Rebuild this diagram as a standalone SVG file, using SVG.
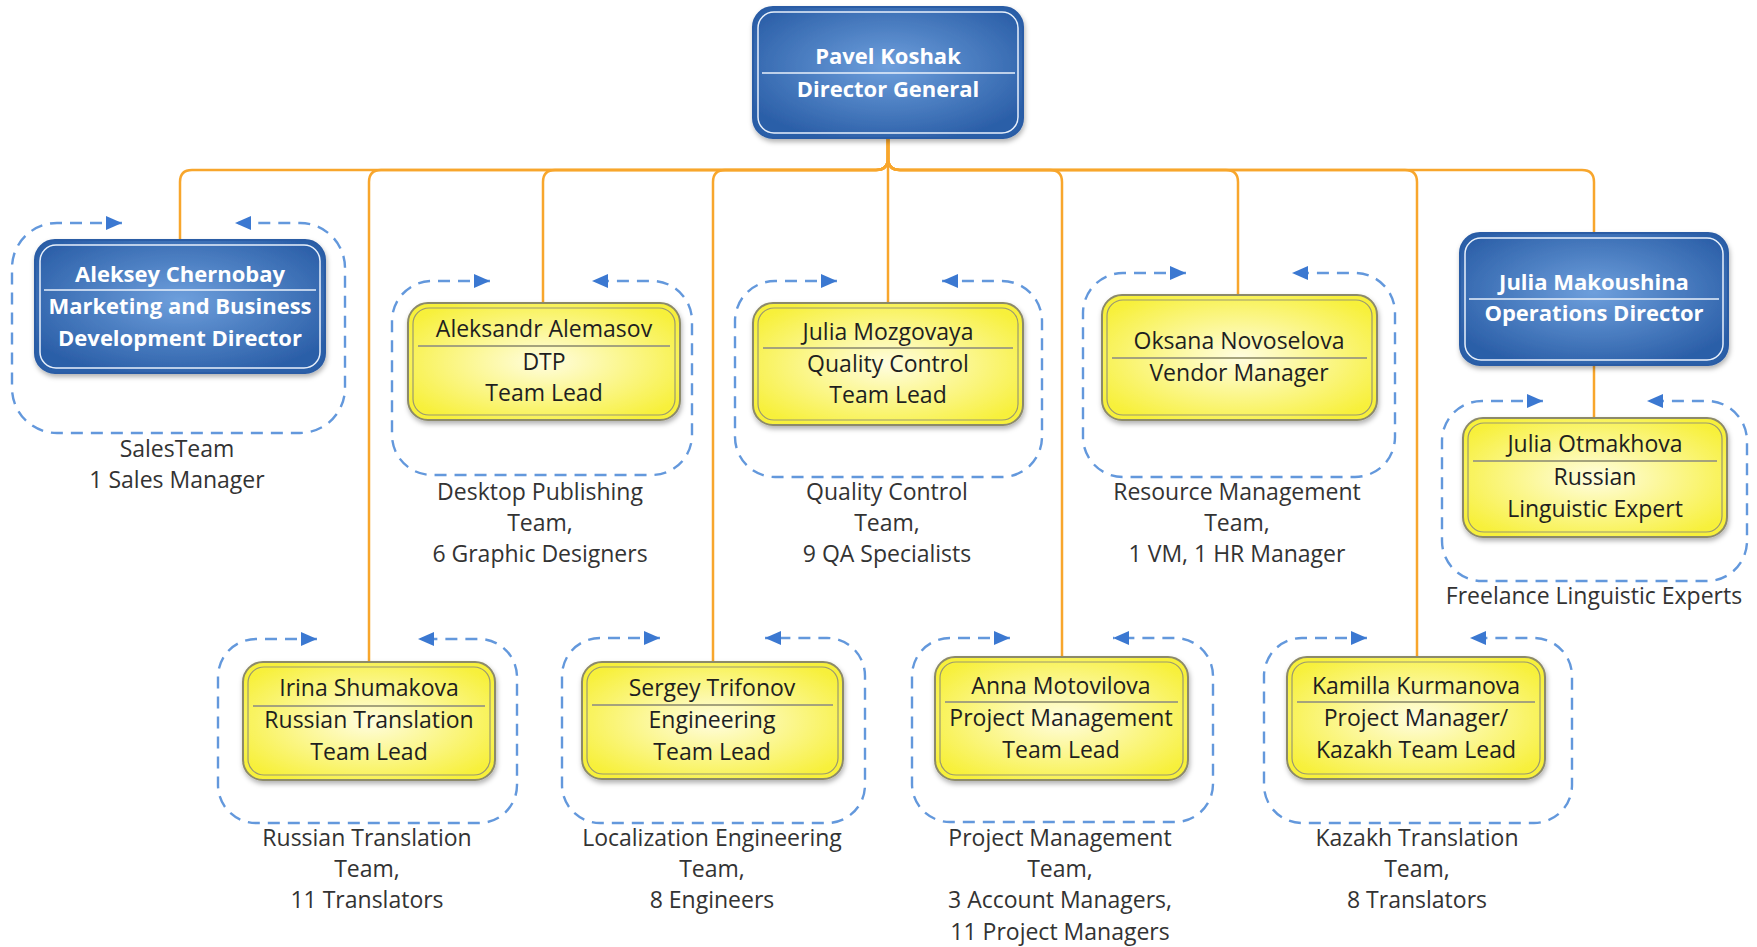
<svg xmlns="http://www.w3.org/2000/svg" width="1757" height="947" viewBox="0 0 1757 947">
<defs>
<radialGradient id="gBlue" cx="0.5" cy="0.45" r="0.6">
<stop offset="0" stop-color="#6e9fdc"/>
<stop offset="1" stop-color="#2b5fa8"/>
</radialGradient>
<radialGradient id="gYel" cx="0.5" cy="0.5" r="0.6">
<stop offset="0" stop-color="#fffde0"/>
<stop offset="1" stop-color="#f7f03a"/>
</radialGradient>
<filter id="sh" x="-10%" y="-10%" width="120%" height="130%">
<feDropShadow dx="1" dy="3" stdDeviation="2.5" flood-color="#000" flood-opacity="0.3"/>
</filter>
<marker id="ar" viewBox="0 0 16 14" refX="16" refY="7" markerWidth="16" markerHeight="14" markerUnits="userSpaceOnUse" orient="auto-start-reverse">
<path d="M0,0 L16,7 L0,14 Z" fill="#3b78d1"/>
</marker>
</defs>
<style>
.blue{fill:url(#gBlue);stroke:#2a5ca5;stroke-width:2;filter:url(#sh)}
.bin{fill:none;stroke:#e8f0fb;stroke-width:1.5}
.bsep{stroke:#e8f0fb;stroke-width:1.5}
.yel{fill:url(#gYel);stroke:#8c8a6a;stroke-width:2;filter:url(#sh)}
.yin{fill:none;stroke:#9a9870;stroke-width:1.2}
.ysep{stroke:#a5a37c;stroke-width:2}
.cont{fill:none;stroke:#6398dc;stroke-width:2.4;stroke-dasharray:12 8;marker-start:url(#ar);marker-end:url(#ar)}
.con{fill:none;stroke:#f8a62c;stroke-width:2.5}
text{font-family:"Open Sans",Lato,"Liberation Sans",sans-serif;text-anchor:middle}
.bt{fill:#ffffff;font-weight:bold;font-size:22px}
.yt{fill:#1f1f1f;font-size:23px}
.lb{fill:#333333;font-size:23px}
</style>
<rect width="1757" height="947" fill="#ffffff"/>

<g id="connectors">
<path class="con" d="M888,138 V158 Q888,170 876,170 H192 Q180,170 180,182 V240"/>
<path class="con" d="M888,138 V158 Q888,170 876,170 H381 Q369,170 369,182 V662"/>
<path class="con" d="M888,138 V158 Q888,170 876,170 H555 Q543,170 543,182 V303"/>
<path class="con" d="M888,138 V158 Q888,170 876,170 H725 Q713,170 713,182 V662"/>
<path class="con" d="M888,138 V303"/>
<path class="con" d="M888,138 V158 Q888,170 900,170 H1050 Q1062,170 1062,182 V657"/>
<path class="con" d="M888,138 V158 Q888,170 900,170 H1226 Q1238,170 1238,182 V295"/>
<path class="con" d="M888,138 V158 Q888,170 900,170 H1405 Q1417,170 1417,182 V657"/>
<path class="con" d="M888,138 V158 Q888,170 900,170 H1582 Q1594,170 1594,182 V233"/>
<path class="con" d="M1594,365 V418"/>
</g>

<g id="root">
<rect class="blue" x="753" y="7" width="270" height="131" rx="20"/>
<rect class="bin" x="758" y="12" width="260" height="121" rx="16"/>
<line class="bsep" x1="762" y1="73" x2="1015" y2="73"/>
<text class="bt" x="888" y="64">Pavel Koshak</text>
<text class="bt" x="888" y="97">Director General</text>
</g>

<g id="sales">
<path class="cont" d="M122,223 H57 A45,45 0 0 0 12,268 V388 A45,45 0 0 0 57,433 H300 A45,45 0 0 0 345,388 V268 A45,45 0 0 0 300,223 H235"/>
<rect class="blue" x="35" y="240" width="290" height="133" rx="20"/>
<rect class="bin" x="40" y="245" width="280" height="123" rx="16"/>
<line class="bsep" x1="44" y1="290" x2="316" y2="290"/>
<text class="bt" x="180" y="282">Aleksey Chernobay</text>
<text class="bt" x="180" y="314">Marketing and Business</text>
<text class="bt" x="180" y="346">Development Director</text>
<text class="lb" x="177" y="457">SalesTeam</text>
<text class="lb" x="177" y="488">1 Sales Manager</text>
</g>

<g id="dtp">
<path class="cont" d="M490,281 H432 A40,40 0 0 0 392,321 V435 A40,40 0 0 0 432,475 H652 A40,40 0 0 0 692,435 V321 A40,40 0 0 0 652,281 H592"/>
<rect class="yel" x="408" y="303" width="272" height="117" rx="20"/>
<rect class="yin" x="413" y="308" width="262" height="107" rx="16"/>
<line class="ysep" x1="418" y1="346" x2="670" y2="346"/>
<text class="yt" x="544" y="337">Aleksandr Alemasov</text>
<text class="yt" x="544" y="370">DTP</text>
<text class="yt" x="544" y="401">Team Lead</text>
<text class="lb" x="540" y="500">Desktop Publishing</text>
<text class="lb" x="540" y="531">Team,</text>
<text class="lb" x="540" y="562">6 Graphic Designers</text>
</g>

<g id="qc">
<path class="cont" d="M837,281 H775 A40,40 0 0 0 735,321 V437 A40,40 0 0 0 775,477 H1002 A40,40 0 0 0 1042,437 V321 A40,40 0 0 0 1002,281 H942"/>
<rect class="yel" x="753" y="303" width="270" height="122" rx="20"/>
<rect class="yin" x="758" y="308" width="260" height="112" rx="16"/>
<line class="ysep" x1="763" y1="348" x2="1013" y2="348"/>
<text class="yt" x="888" y="340">Julia Mozgovaya</text>
<text class="yt" x="888" y="372">Quality Control</text>
<text class="yt" x="888" y="403">Team Lead</text>
<text class="lb" x="887" y="500">Quality Control</text>
<text class="lb" x="887" y="531">Team,</text>
<text class="lb" x="887" y="562">9 QA Specialists</text>
</g>

<g id="rm">
<path class="cont" d="M1186,273 H1123 A40,40 0 0 0 1083,313 V437 A40,40 0 0 0 1123,477 H1355 A40,40 0 0 0 1395,437 V313 A40,40 0 0 0 1355,273 H1292"/>
<rect class="yel" x="1102" y="295" width="275" height="125" rx="20"/>
<rect class="yin" x="1107" y="300" width="265" height="115" rx="16"/>
<line class="ysep" x1="1112" y1="358" x2="1367" y2="358"/>
<text class="yt" x="1239" y="349">Oksana Novoselova</text>
<text class="yt" x="1239" y="381">Vendor Manager</text>
<text class="lb" x="1237" y="500">Resource Management</text>
<text class="lb" x="1237" y="531">Team,</text>
<text class="lb" x="1237" y="562">1 VM, 1 HR Manager</text>
</g>

<g id="ops">
<rect class="blue" x="1460" y="233" width="268" height="132" rx="20"/>
<rect class="bin" x="1465" y="238" width="258" height="122" rx="16"/>
<line class="bsep" x1="1469" y1="299" x2="1719" y2="299"/>
<text class="bt" x="1594" y="290">Julia Makoushina</text>
<text class="bt" x="1594" y="321">Operations Director</text>
</g>

<g id="freelance">
<path class="cont" d="M1543,401 H1482 A40,40 0 0 0 1442,441 V541 A40,40 0 0 0 1482,581 H1707 A40,40 0 0 0 1747,541 V441 A40,40 0 0 0 1707,401 H1647"/>
<rect class="yel" x="1463" y="418" width="264" height="119" rx="20"/>
<rect class="yin" x="1468" y="423" width="254" height="109" rx="16"/>
<line class="ysep" x1="1473" y1="461" x2="1717" y2="461"/>
<text class="yt" x="1595" y="452">Julia Otmakhova</text>
<text class="yt" x="1595" y="485">Russian</text>
<text class="yt" x="1595" y="517">Linguistic Expert</text>
<text class="lb" x="1594" y="604">Freelance Linguistic Experts</text>
</g>

<g id="rtt">
<path class="cont" d="M317,639 H256 A38,38 0 0 0 218,677 V785 A38,38 0 0 0 256,823 H479 A38,38 0 0 0 517,785 V677 A38,38 0 0 0 479,639 H418"/>
<rect class="yel" x="243" y="662" width="252" height="118" rx="20"/>
<rect class="yin" x="248" y="667" width="242" height="108" rx="16"/>
<line class="ysep" x1="253" y1="706" x2="485" y2="706"/>
<text class="yt" x="369" y="696">Irina Shumakova</text>
<text class="yt" x="369" y="728">Russian Translation</text>
<text class="yt" x="369" y="760">Team Lead</text>
<text class="lb" x="367" y="846">Russian Translation</text>
<text class="lb" x="367" y="877">Team,</text>
<text class="lb" x="367" y="908">11 Translators</text>
</g>

<g id="le">
<path class="cont" d="M660,638 H600 A38,38 0 0 0 562,676 V785 A38,38 0 0 0 600,823 H827 A38,38 0 0 0 865,785 V676 A38,38 0 0 0 827,638 H765"/>
<rect class="yel" x="582" y="662" width="261" height="117" rx="20"/>
<rect class="yin" x="587" y="667" width="251" height="107" rx="16"/>
<line class="ysep" x1="592" y1="705" x2="833" y2="705"/>
<text class="yt" x="712" y="696">Sergey Trifonov</text>
<text class="yt" x="712" y="728">Engineering</text>
<text class="yt" x="712" y="760">Team Lead</text>
<text class="lb" x="712" y="846">Localization Engineering</text>
<text class="lb" x="712" y="877">Team,</text>
<text class="lb" x="712" y="908">8 Engineers</text>
</g>

<g id="pm">
<path class="cont" d="M1010,638 H950 A38,38 0 0 0 912,676 V784 A38,38 0 0 0 950,822 H1175 A38,38 0 0 0 1213,784 V676 A38,38 0 0 0 1175,638 H1113"/>
<rect class="yel" x="935" y="657" width="253" height="123" rx="20"/>
<rect class="yin" x="940" y="662" width="243" height="113" rx="16"/>
<line class="ysep" x1="945" y1="702" x2="1178" y2="702"/>
<text class="yt" x="1061" y="694">Anna Motovilova</text>
<text class="yt" x="1061" y="726">Project Management</text>
<text class="yt" x="1061" y="758">Team Lead</text>
<text class="lb" x="1060" y="846">Project Management</text>
<text class="lb" x="1060" y="877">Team,</text>
<text class="lb" x="1060" y="908">3 Account Managers,</text>
<text class="lb" x="1060" y="940">11 Project Managers</text>
</g>

<g id="kz">
<path class="cont" d="M1367,638 H1302 A38,38 0 0 0 1264,676 V785 A38,38 0 0 0 1302,823 H1534 A38,38 0 0 0 1572,785 V676 A38,38 0 0 0 1534,638 H1470"/>
<rect class="yel" x="1287" y="657" width="258" height="122" rx="20"/>
<rect class="yin" x="1292" y="662" width="248" height="112" rx="16"/>
<line class="ysep" x1="1297" y1="702" x2="1535" y2="702"/>
<text class="yt" x="1416" y="694">Kamilla Kurmanova</text>
<text class="yt" x="1416" y="726">Project Manager/</text>
<text class="yt" x="1416" y="758">Kazakh Team Lead</text>
<text class="lb" x="1417" y="846">Kazakh Translation</text>
<text class="lb" x="1417" y="877">Team,</text>
<text class="lb" x="1417" y="908">8 Translators</text>
</g>
</svg>
